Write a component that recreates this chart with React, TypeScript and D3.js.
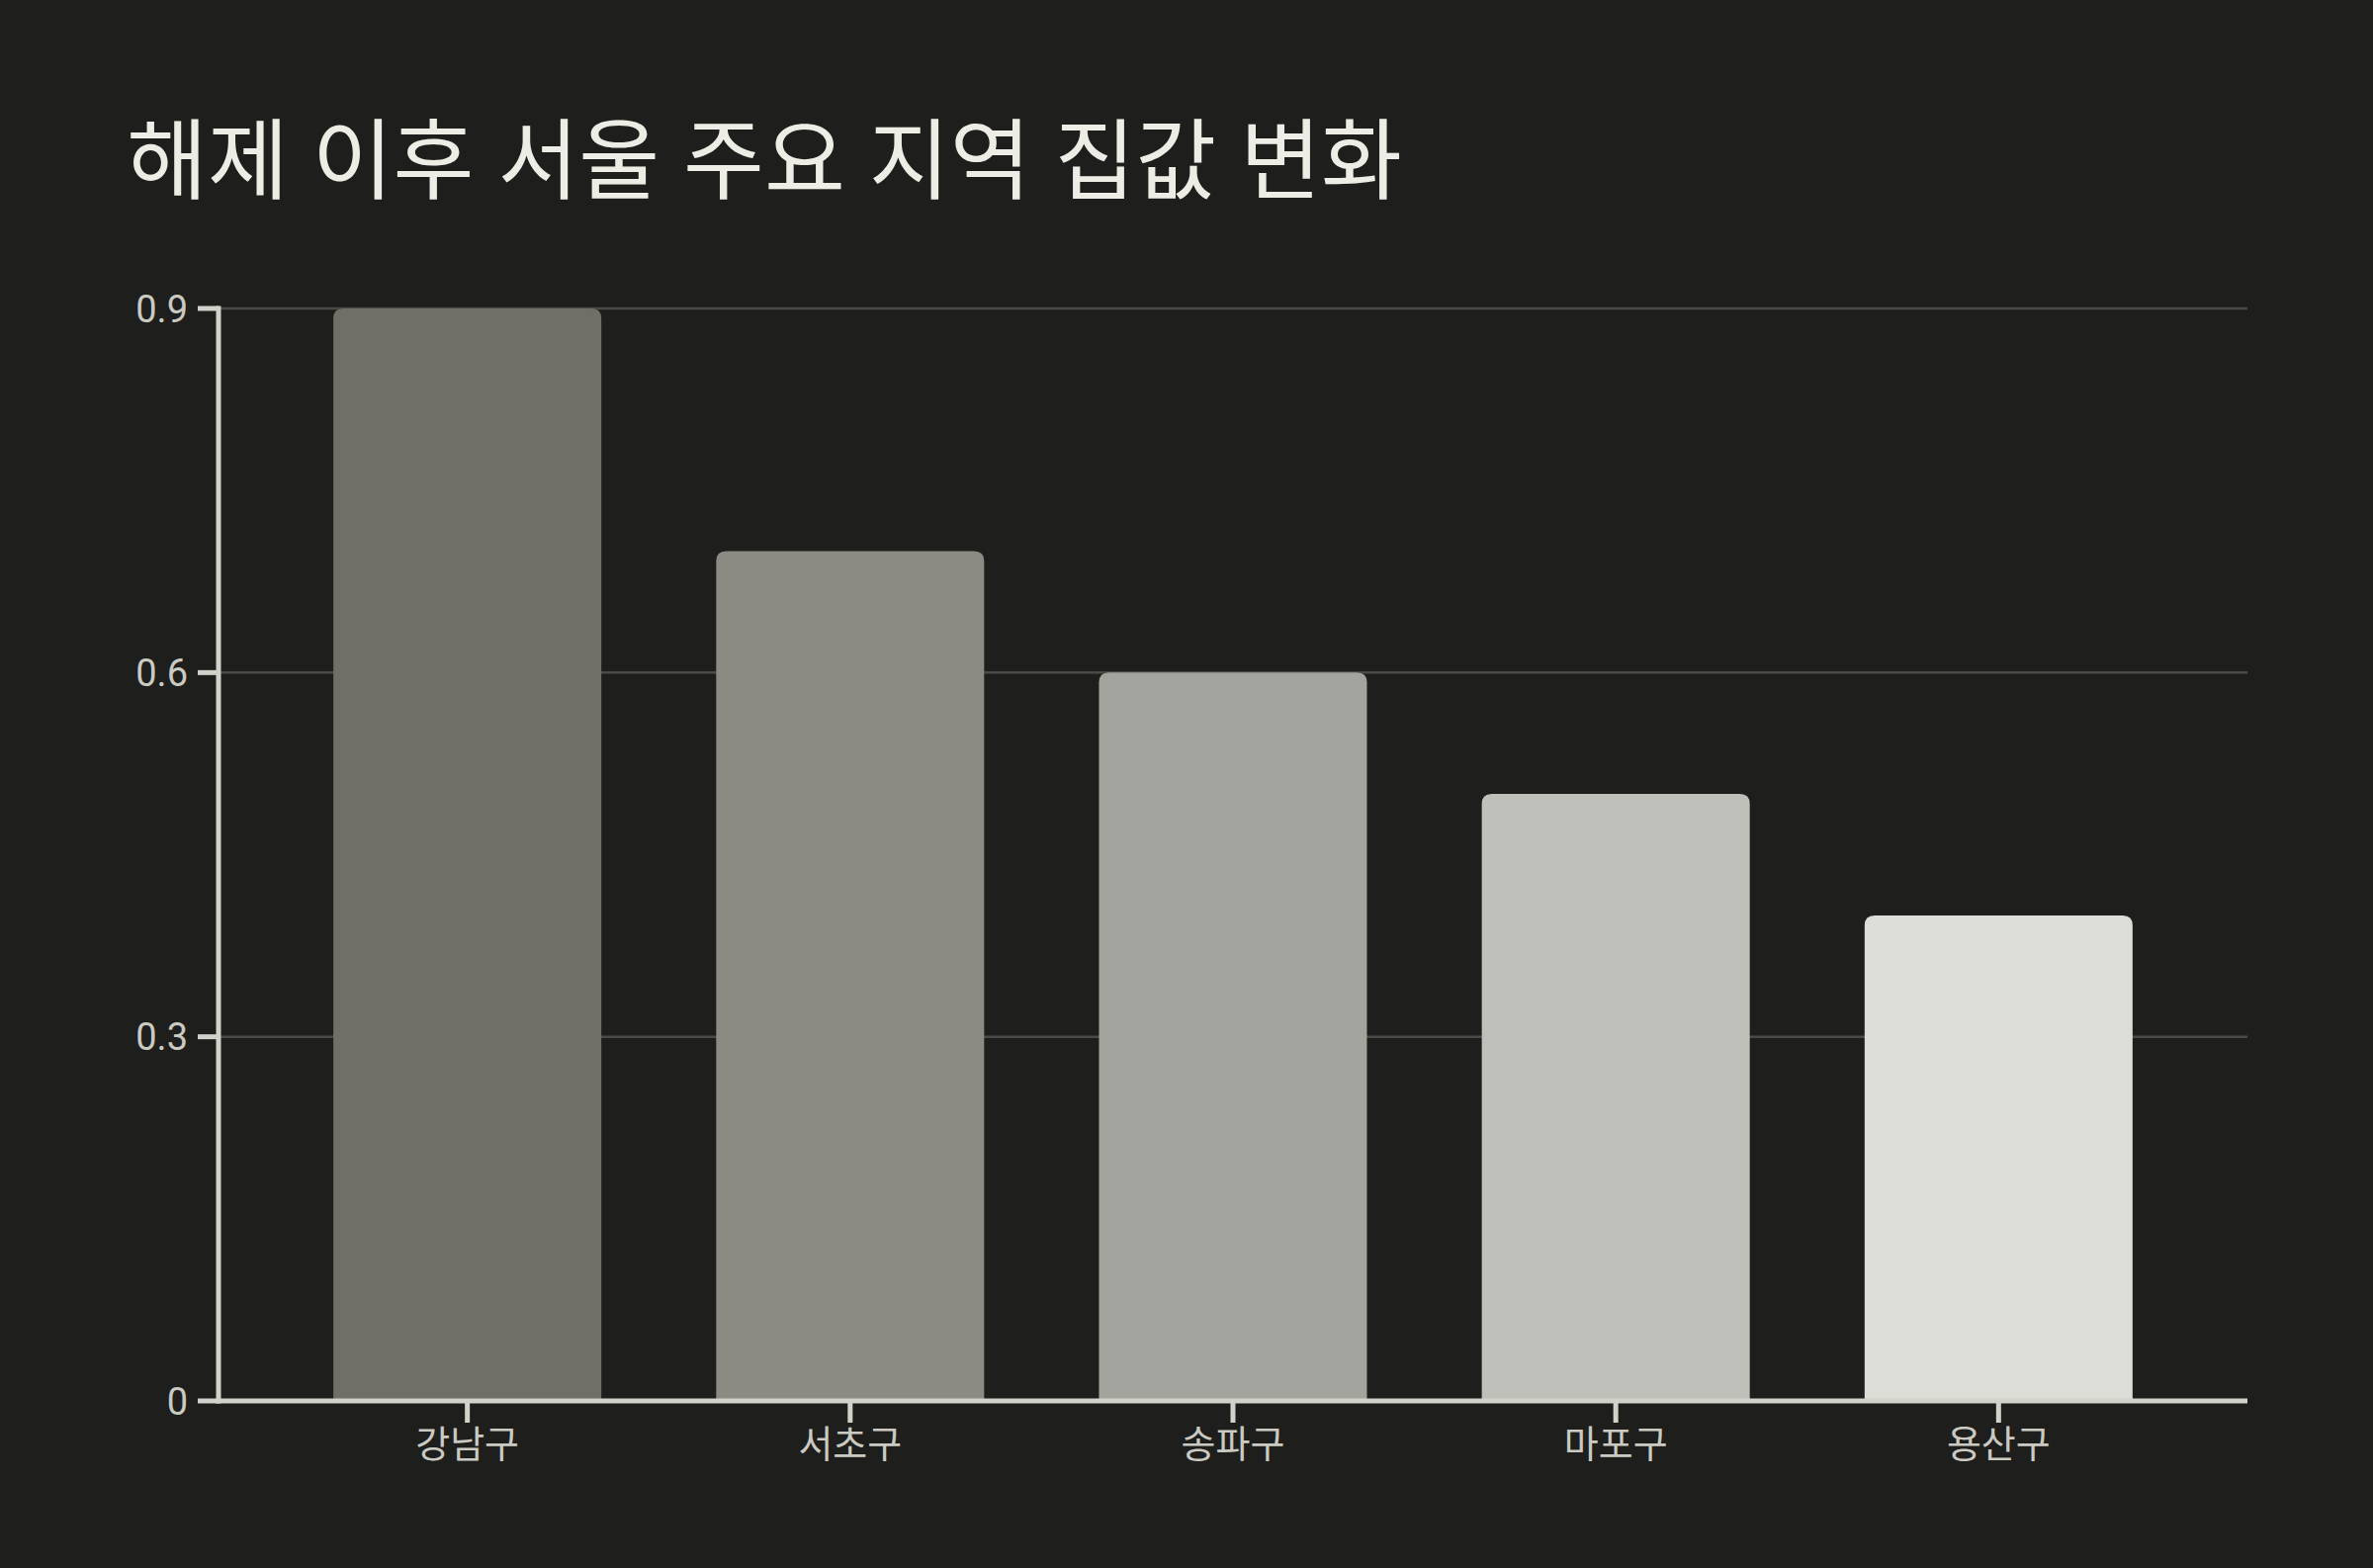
import * as d3 from "d3";

const TITLE = "해제 이후 서울 주요 지역 집값 변화";
const districts = ["강남구", "서초구", "송파구", "마포구", "용산구"];
const priceChange = [0.9, 0.7, 0.6, 0.5, 0.4];
const barColors = ["#6f6f67", "#8b8b83", "#a3a49d", "#bfc0ba", "#dcddd7"];
const yTicks = [0, 0.3, 0.6, 0.9];

const W = 2400;
const H = 1586;
const margin = { top: 312, right: 127, bottom: 169, left: 221 };

function topRoundedBar(x: number, y: number, w: number, h: number, r: number) {
  const rr = Math.min(r, w / 2, h);
  return `M${x},${y + h}V${y + rr}Q${x},${y} ${x + rr},${y}H${x + w - rr}Q${x + w},${y} ${x + w},${y + rr}V${y + h}Z`;
}

export default function App() {
  const x = d3
    .scaleBand<string>()
    .domain(districts)
    .range([margin.left, W - margin.right])
    .paddingInner(0.3)
    .paddingOuter(0.3);
  const y = d3.scaleLinear().domain([0, 0.9]).range([H - margin.bottom, margin.top]);
  const fmt = (v: number) => (v === 0 ? "0" : d3.format(".1f")(v));

  const numFont = "'Liberation Sans Narrow', Roboto, sans-serif";
  const krFont = "'Noto Sans CJK KR', 'Noto Sans', sans-serif";
  const axisColor = "#d2d2ca";
  const labelColor = "#cacac2";

  return (
    <svg
      width={W}
      height={H}
      style={{ position: "absolute", left: 0, top: 0, display: "block" }}
    >
      <rect width={W} height={H} fill="#1e1e1c" />

      <text
        x={128}
        y={194}
        fill="#ededE6"
        fontFamily={krFont}
        fontSize={89}
        style={{ wordSpacing: "4px" }}
      >
        {TITLE}
      </text>

      {/* gridlines */}
      {yTicks
        .filter((t) => t > 0)
        .map((t) => (
          <line
            key={t}
            x1={margin.left}
            x2={W - margin.right}
            y1={y(t)}
            y2={y(t)}
            stroke="#4a4a47"
            strokeWidth={2.5}
          />
        ))}

      {/* bars */}
      {districts.map((d, i) => (
        <path
          key={d}
          d={topRoundedBar(x(d) ?? 0, y(priceChange[i]), x.bandwidth(), y(0) - y(priceChange[i]), 10)}
          fill={barColors[i]}
        />
      ))}

      {/* y axis */}
      <line x1={margin.left} x2={margin.left} y1={y(0.9) - 2.5} y2={y(0) + 2.5} stroke={axisColor} strokeWidth={5} />
      {yTicks.map((t) => (
        <g key={t}>
          <line x1={margin.left - 21} x2={margin.left} y1={y(t)} y2={y(t)} stroke={axisColor} strokeWidth={5} />
          <text
            x={190}
            y={y(t)}
            dy="0.36em"
            textAnchor="end"
            fill={labelColor}
            fontFamily={numFont}
            fontSize={38}
          >
            {fmt(t)}
          </text>
        </g>
      ))}

      {/* x axis */}
      <line x1={margin.left - 2.5} x2={W - margin.right} y1={y(0)} y2={y(0)} stroke={axisColor} strokeWidth={5} />
      {districts.map((d) => {
        const cx = (x(d) ?? 0) + x.bandwidth() / 2;
        return (
          <g key={d}>
            <line x1={cx} x2={cx} y1={y(0)} y2={y(0) + 22} stroke={axisColor} strokeWidth={5} />
            <text
              x={cx}
              y={1474}
              textAnchor="middle"
              fill={labelColor}
              fontFamily={krFont}
              fontSize={38}
            >
              {d}
            </text>
          </g>
        );
      })}
    </svg>
  );
}
